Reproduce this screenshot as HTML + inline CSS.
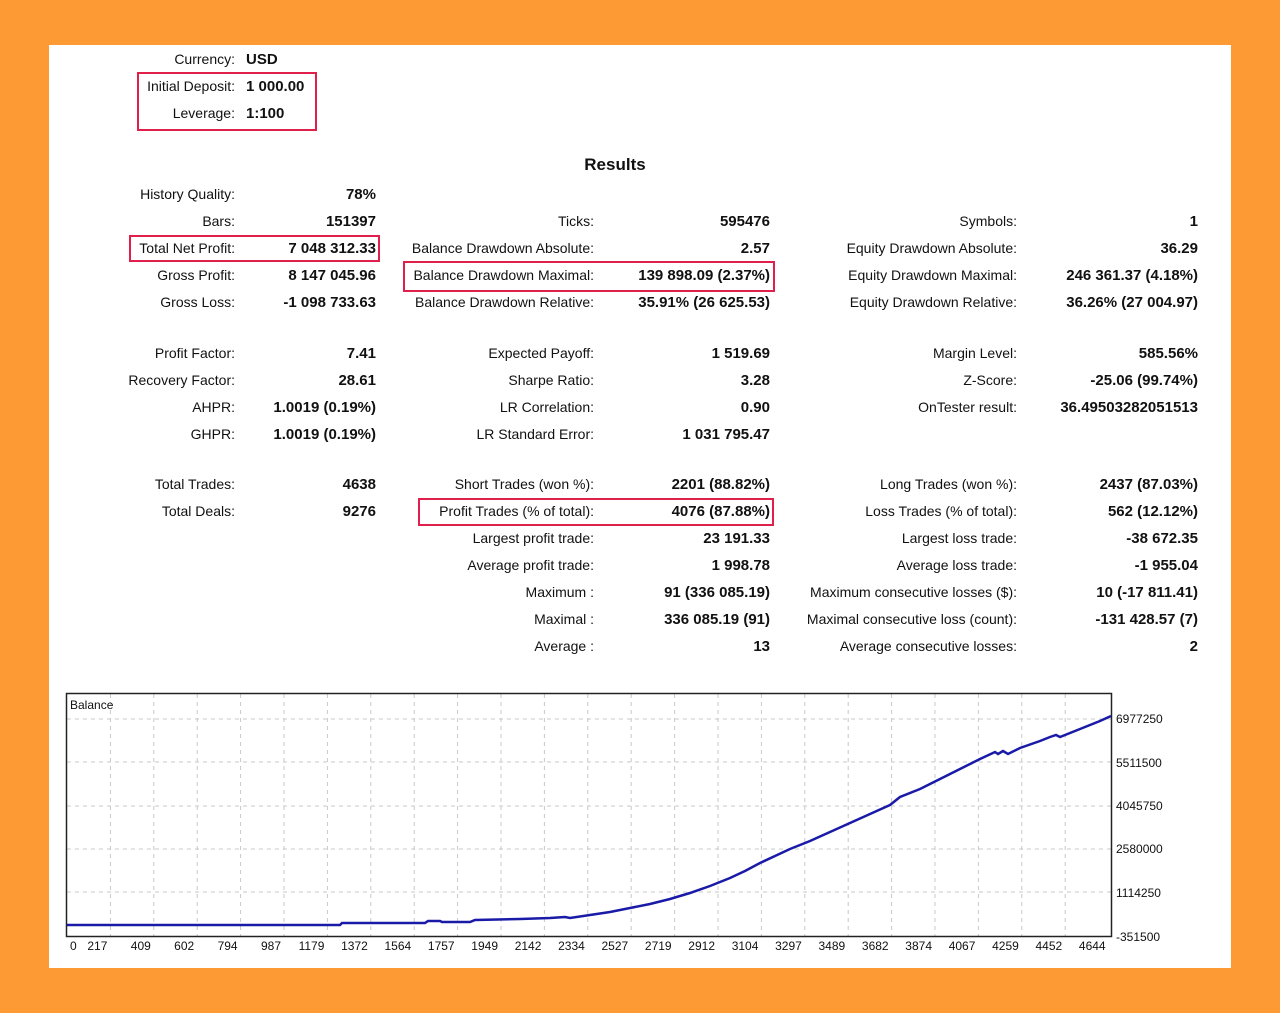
<!DOCTYPE html>
<html><head><style>
body{margin:0;width:1280px;height:1013px;background:#fd9a33;position:relative;overflow:hidden;font-family:"Liberation Sans",sans-serif;}
#p{position:absolute;left:49px;top:45px;width:1182px;height:923px;background:#fff;}
.l,.v{position:absolute;font-size:14px;line-height:18px;color:#111;white-space:nowrap;text-align:right;}
.v{font-weight:bold;font-size:15px;margin-top:1px;}
.b{position:absolute;border:2px solid #e0204a;}
</style></head><body>
<div id="p"></div>
<div id="t"></div>
<div class="b" style="left:137px;top:72px;width:176px;height:55px"></div>
<div class="b" style="left:129px;top:235px;width:247px;height:23px"></div>
<div class="b" style="left:403px;top:261px;width:368px;height:27px"></div>
<div class="b" style="left:418px;top:498px;width:352px;height:24px"></div>
<div style="position:absolute;left:560px;top:155px;width:110px;text-align:center;font-weight:bold;font-size:17px;color:#111">Results</div>
<script>
const rows=[
[59,[[235,"Currency:"]],[[246,"USD",1]]],
[86,[[235,"Initial Deposit:"]],[[246,"1 000.00",1]]],
[113,[[235,"Leverage:"]],[[246,"1:100",1]]],
];
const cols=[[235,376],[594,770],[1017,1198]];
const data=[
[194,["History Quality:","78%"],null,null],
[221,["Bars:","151397"],["Ticks:","595476"],["Symbols:","1"]],
[248,["Total Net Profit:","7 048 312.33"],["Balance Drawdown Absolute:","2.57"],["Equity Drawdown Absolute:","36.29"]],
[275,["Gross Profit:","8 147 045.96"],["Balance Drawdown Maximal:","139 898.09 (2.37%)"],["Equity Drawdown Maximal:","246 361.37 (4.18%)"]],
[302,["Gross Loss:","-1 098 733.63"],["Balance Drawdown Relative:","35.91% (26 625.53)"],["Equity Drawdown Relative:","36.26% (27 004.97)"]],
[353,["Profit Factor:","7.41"],["Expected Payoff:","1 519.69"],["Margin Level:","585.56%"]],
[380,["Recovery Factor:","28.61"],["Sharpe Ratio:","3.28"],["Z-Score:","-25.06 (99.74%)"]],
[407,["AHPR:","1.0019 (0.19%)"],["LR Correlation:","0.90"],["OnTester result:","36.49503282051513"]],
[434,["GHPR:","1.0019 (0.19%)"],["LR Standard Error:","1 031 795.47"],null],
[484,["Total Trades:","4638"],["Short Trades (won %):","2201 (88.82%)"],["Long Trades (won %):","2437 (87.03%)"]],
[511,["Total Deals:","9276"],["Profit Trades (% of total):","4076 (87.88%)"],["Loss Trades (% of total):","562 (12.12%)"]],
[538,null,["Largest profit trade:","23 191.33"],["Largest loss trade:","-38 672.35"]],
[565,null,["Average profit trade:","1 998.78"],["Average loss trade:","-1 955.04"]],
[592,null,["Maximum :","91 (336 085.19)"],["Maximum consecutive losses ($):","10 (-17 811.41)"]],
[619,null,["Maximal :","336 085.19 (91)"],["Maximal consecutive loss (count):","-131 428.57 (7)"]],
[646,null,["Average :","13"],["Average consecutive losses:","2"]],
];
let h="";
function R(x,y,t,c){h+=`<div class="${c}" style="right:${1280-x}px;top:${y-9}px">${t}</div>`;}
function L(x,y,t,c){h+=`<div class="${c}" style="left:${x}px;top:${y-9}px">${t}</div>`;}
rows.forEach(r=>{R(235,r[0],r[1][0][1],"l");L(246,r[0],r[2][0][1],"v");});
data.forEach(r=>{for(let i=0;i<3;i++){const c=r[i+1];if(c){R(cols[i][0],r[0],c[0],"l");R(cols[i][1],r[0],c[1],"v");}}});
document.getElementById("t").innerHTML=h;
</script>
<svg style="position:absolute;left:0;top:0" width="1280" height="1013">
<g stroke="#c8c8c8" stroke-dasharray="4,4" stroke-width="1">
<line x1="67" x2="1111" y1="719" y2="719"/><line x1="67" x2="1111" y1="762" y2="762"/><line x1="67" x2="1111" y1="806" y2="806"/><line x1="67" x2="1111" y1="849" y2="849"/><line x1="67" x2="1111" y1="892" y2="892"/>
</g>
<g id="vg" stroke="#c8c8c8" stroke-dasharray="4,4"></g>
<rect x="66.5" y="693.5" width="1045" height="243" fill="none" stroke="#222" stroke-width="1.5"/>
<polyline fill="none" stroke="#1a1aa8" stroke-width="2.5" points="67,925 340,925 342,923 425,923 428,921 440,921 442,922 470,922 475,920 520,919 550,918 565,917 570,918 590,915 610,912 630,908 650,904 670,899 690,893 710,886 730,878 745,871 760,863 775,856 790,849 810,841 830,832 850,823 870,814 890,805 900,797 920,789 940,779 960,769 980,759 995,752 998,754 1003,751 1008,754 1020,748 1040,741 1050,737 1056,735 1060,737 1080,729 1100,721 1111,716"/>
<g font-family="Liberation Sans,sans-serif" font-size="12" fill="#111" id="xl"></g>
<g font-family="Liberation Sans,sans-serif" font-size="12" fill="#111">
<text x="1116" y="723">6977250</text><text x="1116" y="767">5511500</text><text x="1116" y="810">4045750</text><text x="1116" y="853">2580000</text><text x="1116" y="897">1114250</text><text x="1116" y="941">-351500</text>
<text x="70" y="709">Balance</text>
</g>
</svg>
<script>
const labs=["0","217","409","602","794","987","1179","1372","1564","1757","1949","2142","2334","2527","2719","2912","3104","3297","3489","3682","3874","4067","4259","4452","4644"];
let g="",x="";
for(let i=1;i<=23;i++){const gx=67+i*43.4;g+=`<line x1="${gx}" x2="${gx}" y1="694" y2="936"/>`;}
labs.forEach((t,i)=>{const cx=i==0?70:67+i*43.4-3;x+=`<text x="${cx}" y="950" text-anchor="${i==0?'start':'end'}">${t}</text>`;});
document.getElementById("vg").innerHTML=g;document.getElementById("xl").innerHTML=x;
</script>
</body></html>
